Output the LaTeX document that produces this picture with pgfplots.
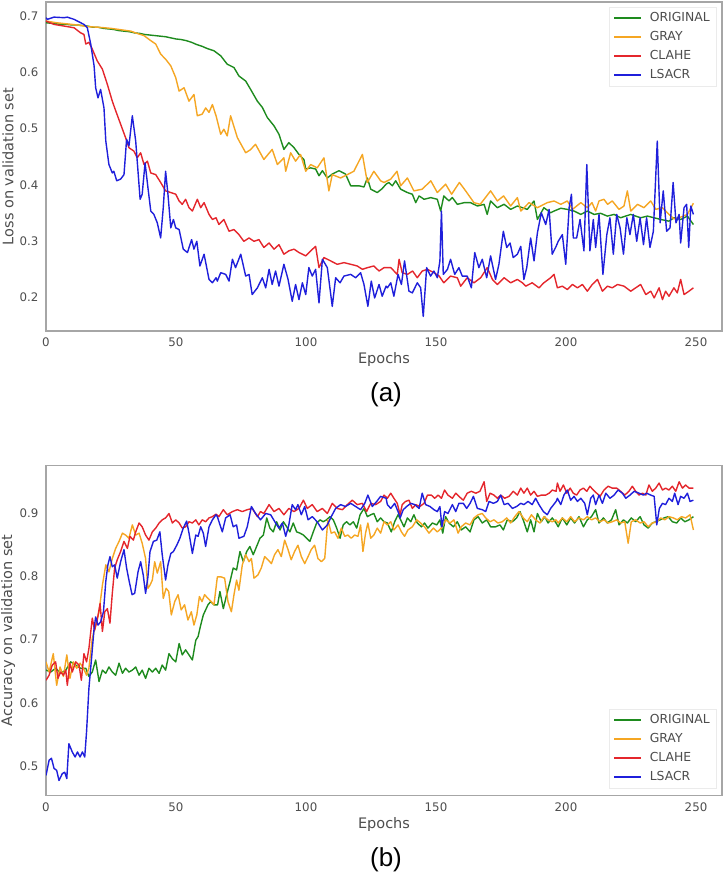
\documentclass[border=0pt]{standalone}
\usepackage{pgfplots}
\pgfplotsset{compat=1.18}
\usepackage{fontspec}
\setmainfont{DejaVu Sans}
\newfontfamily\capfont{Liberation Sans}
\definecolor{cOrig}{HTML}{1E8B1E}
\definecolor{cGray}{HTML}{F5A623}
\definecolor{cClahe}{HTML}{E4262C}
\definecolor{cLsacr}{HTML}{1F1FDB}
\definecolor{txtgray}{HTML}{4D4D4D}
\definecolor{framegray}{HTML}{A6A6A6}
\pgfplotsset{
  myaxis/.style={
    scale only axis, width=676pt,
    xmin=0, xmax=260, xtick={0,50,100,150,200,250},
    axis line style={draw=framegray, line width=1.3pt},
    major tick length=0pt, tick style={draw=none},
    /pgf/number format/assume math mode=true,
    tick label style={font=\fontsize{11.8}{13}\selectfont, text=txtgray},
    xticklabel style={yshift=-3.5pt},
    yticklabel style={xshift=-4pt},
    every axis x label/.style={at={(axis description cs:0.5,0)}, anchor=center, yshift=-29pt, font=\fontsize{14.5}{16}\selectfont, text=txtgray},
    every axis y label/.style={at={(axis description cs:-0.0562,0.5)}, rotate=90, anchor=center, font=\fontsize{14.5}{16}\selectfont, text=txtgray},
    xlabel={Epochs},
    legend style={draw=black!8, fill=white, font=\fontsize{12.4}{14}\selectfont,
      row sep=4.3pt, inner xsep=4pt, inner ysep=3.5pt},
    legend cell align=left,
  }
}
\begin{document}
\begin{tikzpicture}
\useasboundingbox (0,0) rectangle (725pt,875pt);
% ---------------- (a) loss ----------------
\begin{axis}[myaxis, at={(46pt,544pt)}, anchor=south west, height=329pt,
  ymin=0.139, ymax=0.726, ytick={0.2,0.3,0.4,0.5,0.6,0.7},
  yticklabel style={/pgf/number format/fixed, /pgf/number format/precision=1},
  ylabel={Loss on validation set},
  legend style={at={(axis description cs:0.991,0.985)}, anchor=north east},
  legend image code/.code={\draw[#1] (0pt,0pt) -- (27pt,0pt); \path (33pt,0pt);}]
\addplot[cOrig, line width=1.4pt, line join=round] coordinates {(0,0.689) (2,0.688) (4,0.687) (6,0.686) (8,0.686) (10,0.685) (12,0.685) (14,0.684) (16,0.683) (18,0.681) (20,0.681) (22,0.679) (24,0.678) (26,0.677) (28,0.675) (30,0.674) (32,0.673) (34,0.671) (36,0.670) (38,0.668) (40,0.667) (42,0.666) (44,0.665) (46,0.664) (48,0.662) (50,0.660) (52,0.659) (54,0.657) (56,0.654) (58,0.650) (60,0.647) (62,0.643) (64.6,0.639) (67.2,0.630) (69.7,0.615) (72.3,0.609) (74.2,0.594) (76.8,0.585) (78.7,0.570) (81.3,0.549) (83.2,0.538) (85.1,0.520) (87.7,0.505) (89.6,0.490) (91.5,0.463) (93.4,0.475) (95.4,0.466) (97.3,0.454) (99.2,0.445) (99.9,0.428) (101.8,0.430) (103.7,0.428) (105,0.416) (106.3,0.425) (108.2,0.412) (110.1,0.419) (112.7,0.425) (115.2,0.419) (117.2,0.398) (120.4,0.398) (122.3,0.396) (123.6,0.412) (124.9,0.392) (127.4,0.386) (129.3,0.393) (130.8,0.401) (131.9,0.404) (133.2,0.398) (134.5,0.407) (136.4,0.392) (139,0.386) (140.9,0.383) (142.2,0.368) (143.5,0.380) (145.4,0.374) (148,0.377) (150.5,0.374) (151.8,0.353) (153,0.380) (155,0.371) (156.3,0.377) (158.2,0.365) (160.8,0.368) (163.3,0.368) (165.9,0.362) (168.5,0.365) (169.7,0.347) (171,0.371) (173.6,0.359) (176.2,0.365) (178.7,0.356) (181.3,0.362) (185.1,0.356) (187.7,0.371) (189,0.338) (191.5,0.359) (194.1,0.350) (195.4,0.353) (198,0.358) (200.5,0.356) (203.1,0.353) (205.7,0.347) (208.2,0.353) (210.8,0.347) (213.3,0.349) (215.9,0.344) (218.5,0.347) (221,0.341) (224.9,0.347) (228.7,0.341) (231.3,0.344) (233.9,0.341) (236.4,0.338) (239.6,0.335) (241.5,0.341) (244.1,0.338) (246.7,0.344) (249,0.329)};
\addlegendentry{\textcolor{txtgray}{ORIGINAL}}
\addplot[cGray, line width=1.4pt, line join=round] coordinates {(0,0.692) (4,0.689) (8,0.687) (12,0.685) (16,0.682) (20,0.681) (24.9,0.679) (28,0.677) (32.6,0.674) (35,0.670) (37.7,0.666) (40.3,0.657) (42.2,0.651) (44.1,0.633) (46,0.624) (48,0.612) (49.9,0.591) (51.2,0.567) (53.1,0.573) (55,0.549) (56.9,0.561) (58.2,0.523) (60.1,0.526) (61.4,0.537) (62.7,0.529) (64,0.543) (65.4,0.523) (67.2,0.490) (68.4,0.499) (69.7,0.487) (71,0.523) (73.6,0.484) (76.8,0.457) (78.5,0.462) (80.6,0.472) (83.8,0.445) (87,0.463) (89,0.436) (91.5,0.448) (92.2,0.424) (94.1,0.457) (96,0.442) (97.9,0.454) (99.9,0.424) (101.8,0.436) (104.3,0.430) (106.9,0.448) (108.8,0.389) (110.1,0.418) (113.3,0.412) (115.9,0.418) (118.4,0.424) (121.7,0.454) (123.6,0.404) (126.1,0.424) (128.7,0.407) (130,0.404) (132.6,0.410) (135,0.424) (136.4,0.398) (139,0.412) (141.5,0.389) (144.7,0.392) (148,0.407) (150.5,0.386) (153.7,0.401) (156,0.383) (159,0.404) (161.4,0.389) (164.6,0.368) (167,0.365) (171,0.389) (173.6,0.371) (176,0.380) (178.7,0.362) (181.3,0.377) (182.6,0.353) (185.8,0.368) (189,0.359) (192.8,0.368) (195.4,0.371) (198,0.365) (200.5,0.371) (202.5,0.356) (205.7,0.368) (208.2,0.359) (210,0.368) (211.4,0.353) (212.7,0.371) (214.6,0.374) (216,0.365) (217.8,0.371) (220.4,0.356) (222.3,0.362) (223.6,0.389) (224.9,0.353) (227.5,0.365) (230,0.359) (232.6,0.371) (234.5,0.356) (237,0.359) (239.6,0.347) (241.5,0.339) (244,0.342) (246.7,0.347) (249,0.367)};
\addlegendentry{\textcolor{txtgray}{GRAY}}
\addplot[cClahe, line width=1.4pt, line join=round] coordinates {(0,0.692) (3.1,0.686) (7,0.683) (10.8,0.680) (13.3,0.671) (14.6,0.668) (15.3,0.651) (16.5,0.654) (17.8,0.642) (19.7,0.621) (21.7,0.606) (23.6,0.579) (25.5,0.549) (26.8,0.532) (28.7,0.508) (30.6,0.484) (31.9,0.466) (33.8,0.460) (35.1,0.448) (36.4,0.457) (37.7,0.436) (39,0.442) (40.3,0.421) (42.2,0.418) (44.1,0.404) (46,0.389) (48,0.386) (49.9,0.383) (51.2,0.371) (52.4,0.365) (53.7,0.374) (55,0.359) (56.3,0.353) (58.2,0.374) (59.5,0.359) (60.8,0.368) (62.7,0.347) (64,0.338) (65.4,0.341) (66.5,0.329) (68.4,0.338) (70.4,0.317) (72.3,0.320) (74.2,0.311) (76.1,0.299) (78.1,0.305) (80,0.299) (81.9,0.302) (83.8,0.288) (85.8,0.296) (87.7,0.285) (89.6,0.293) (91.5,0.276) (93.4,0.282) (95.4,0.285) (97.3,0.279) (99.9,0.273) (101.8,0.282) (103.7,0.290) (105,0.252) (106.9,0.270) (109.5,0.264) (112,0.258) (114.6,0.261) (117.2,0.258) (119.7,0.255) (121.7,0.249) (123.6,0.252) (126.1,0.255) (128.1,0.246) (130,0.252) (132.6,0.252) (135.1,0.240) (135.8,0.267) (137,0.243) (139,0.240) (141,0.246) (142.8,0.234) (144.7,0.246) (146.7,0.249) (149.2,0.243) (151.2,0.237) (153,0.225) (155.6,0.237) (158.2,0.234) (159.5,0.219) (162,0.234) (164.6,0.225) (167.2,0.234) (169.7,0.252) (171.7,0.231) (173.6,0.222) (176.2,0.234) (178.7,0.225) (181.3,0.231) (183.2,0.225) (184.5,0.219) (187,0.225) (189.6,0.216) (191.5,0.225) (194.1,0.234) (195.4,0.240) (196.7,0.216) (198.6,0.219) (200.5,0.213) (202.5,0.222) (204.4,0.216) (206.3,0.222) (208.2,0.210) (210.1,0.222) (212.1,0.231) (214,0.210) (215.9,0.219) (217.8,0.216) (219.8,0.222) (222.3,0.219) (224.9,0.210) (226.8,0.216) (228.7,0.222) (230.7,0.204) (232.6,0.210) (233.9,0.198) (235.8,0.216) (237.1,0.195) (238.3,0.210) (239.6,0.201) (241.5,0.216) (242.8,0.207) (244.1,0.231) (245.4,0.204) (247.3,0.210) (249,0.216)};
\addlegendentry{\textcolor{txtgray}{CLAHE}}
\addplot[cLsacr, line width=1.4pt, line join=round] coordinates {(0,0.698) (0.5,0.695) (3.1,0.699) (7,0.698) (8.2,0.699) (10.8,0.695) (14.6,0.686) (15.9,0.680) (17.2,0.651) (18.5,0.612) (19.1,0.573) (20,0.555) (21,0.570) (22.3,0.537) (23,0.478) (24.2,0.436) (25.5,0.421) (26.1,0.424) (27.2,0.407) (28.7,0.410) (30,0.418) (31,0.481) (31.9,0.469) (33.2,0.523) (34.5,0.478) (36.2,0.374) (37,0.383) (38.1,0.439) (39.2,0.395) (40.3,0.353) (41.5,0.347) (42.8,0.332) (44.1,0.305) (45.1,0.359) (46,0.424) (46.9,0.383) (48,0.323) (49,0.338) (49.9,0.323) (51.2,0.320) (52.8,0.285) (54.4,0.279) (56,0.302) (56.9,0.285) (58,0.299) (59.2,0.255) (60.8,0.276) (62.7,0.231) (64,0.225) (65.4,0.234) (65.9,0.228) (67.2,0.243) (69.1,0.240) (70.4,0.228) (71.7,0.267) (72.9,0.252) (74.9,0.276) (76.8,0.237) (78.1,0.240) (79.3,0.204) (81.3,0.216) (83.2,0.234) (84.5,0.216) (85.8,0.249) (87,0.222) (88.3,0.246) (89.6,0.219) (91.5,0.258) (93.1,0.231) (94.7,0.192) (96,0.222) (97.3,0.195) (98.6,0.225) (99.9,0.204) (101.1,0.252) (102.4,0.237) (103.7,0.249) (105,0.189) (106.3,0.267) (108.2,0.252) (110.1,0.183) (111.4,0.234) (113.1,0.225) (114.6,0.237) (117.2,0.240) (119.1,0.234) (121,0.243) (122.3,0.222) (123.8,0.183) (125.1,0.228) (126.4,0.198) (128.1,0.222) (129.3,0.201) (130.8,0.219) (131.3,0.216) (132.6,0.225) (133.8,0.201) (135.4,0.240) (136.7,0.222) (137.9,0.264) (139.6,0.210) (140.9,0.207) (142.8,0.225) (144.1,0.216) (145.1,0.165) (146.4,0.252) (147.9,0.237) (149.2,0.246) (150.5,0.234) (151.5,0.264) (152.1,0.353) (152.8,0.240) (154.4,0.249) (155.6,0.267) (157.2,0.240) (158.8,0.252) (160.1,0.237) (162,0.237) (163.6,0.216) (164.9,0.279) (166.5,0.252) (167.8,0.267) (169.5,0.234) (171,0.273) (172.9,0.231) (174.2,0.258) (175.9,0.317) (177.2,0.288) (178.5,0.296) (179.7,0.270) (181.3,0.276) (182.6,0.290) (183.8,0.231) (184.9,0.252) (186.4,0.305) (187.7,0.264) (189,0.314) (190.5,0.350) (192.2,0.329) (193.5,0.356) (194.7,0.276) (196.2,0.290) (197,0.299) (198.6,0.311) (199.9,0.258) (201.2,0.359) (202.1,0.383) (202.8,0.305) (204.1,0.305) (205.4,0.338) (206.9,0.282) (208,0.436) (209.2,0.282) (210.5,0.338) (211.4,0.288) (212.7,0.347) (214.2,0.240) (215.7,0.311) (216.9,0.341) (218.2,0.276) (219.5,0.347) (220.8,0.323) (222.1,0.276) (223.4,0.341) (224.6,0.311) (225.9,0.347) (227.2,0.299) (228.5,0.341) (229.8,0.293) (231,0.341) (232.3,0.288) (233.6,0.317) (235.1,0.478) (236.2,0.332) (237.4,0.389) (238.7,0.317) (240,0.323) (241.2,0.404) (242.3,0.332) (243.5,0.347) (244.1,0.296) (245.4,0.359) (246.4,0.365) (247.2,0.288) (248,0.362) (249,0.347)};
\addlegendentry{\textcolor{txtgray}{LSACR}}
\end{axis}
% ---------------- (b) accuracy ----------------
\begin{axis}[myaxis, at={(46pt,79.3pt)}, anchor=south west, height=330.4pt,
  ymin=0.454, ymax=0.975, ytick={0.5,0.6,0.7,0.8,0.9},
  yticklabel style={/pgf/number format/fixed, /pgf/number format/precision=1},
  ylabel={Accuracy on validation set},
  legend style={at={(axis description cs:0.991,0.023)}, anchor=south east},
  legend image code/.code={\draw[#1] (0pt,0pt) -- (27pt,0pt); \path (33pt,0pt);}]
\addplot[cOrig, line width=1.4pt, line join=round] coordinates {(0,0.652) (1.8,0.649) (3.7,0.655) (5.6,0.647) (7.6,0.652) (9.5,0.665) (11.4,0.660) (13.3,0.655) (15.3,0.655) (16.5,0.642) (17.8,0.649) (19.1,0.668) (20.4,0.634) (21.7,0.652) (23,0.647) (24.2,0.657) (25.5,0.649) (26.8,0.644) (28.1,0.663) (29.4,0.647) (30.6,0.655) (31.9,0.649) (33.2,0.652) (34.5,0.657) (35.8,0.644) (37,0.652) (38.3,0.639) (39.6,0.655) (40.9,0.649) (42.2,0.655) (43.5,0.647) (44.7,0.660) (46,0.652) (47.3,0.678) (48.6,0.670) (49.9,0.665) (51.2,0.694) (52.4,0.676) (53.7,0.684) (55,0.676) (56.3,0.668) (57.6,0.699) (58.5,0.705) (59.5,0.723) (60.5,0.739) (61.4,0.747) (62.3,0.755) (63.3,0.760) (64.6,0.755) (66,0.755) (66.9,0.776) (68.2,0.749) (69.5,0.771) (70.8,0.792) (72,0.813) (73.3,0.810) (74.6,0.839) (75.9,0.823) (77.2,0.839) (78.4,0.847) (79.7,0.834) (81,0.847) (82.3,0.860) (83.6,0.865) (84.9,0.892) (86.1,0.876) (87.4,0.870) (88.7,0.886) (90,0.873) (91.3,0.886) (92.6,0.878) (93.8,0.870) (95.1,0.884) (96.4,0.870) (97.7,0.868) (99,0.865) (100.2,0.860) (101.5,0.855) (102.8,0.870) (104.1,0.884) (105.4,0.889) (106.6,0.886) (107.9,0.889) (109.2,0.894) (110.5,0.889) (111.8,0.876) (113.1,0.860) (114.3,0.881) (115.6,0.886) (116.9,0.881) (118.2,0.886) (119.5,0.876) (120.8,0.897) (122.3,0.907) (123.6,0.894) (124.9,0.897) (126.1,0.899) (127.4,0.886) (128.7,0.892) (130,0.886) (131.3,0.884) (132.8,0.870) (134.1,0.886) (135.4,0.897) (136.4,0.889) (137.7,0.878) (139,0.892) (140.3,0.886) (141.5,0.897) (142.8,0.884) (144.4,0.878) (145.6,0.884) (146.9,0.876) (148.6,0.884) (150.3,0.881) (151.5,0.889) (152.6,0.868) (153.7,0.894) (155,0.884) (156.7,0.878) (158.2,0.886) (159.7,0.873) (161.4,0.878) (163.1,0.870) (164.6,0.889) (166.2,0.894) (167.8,0.884) (169.5,0.889) (171,0.878) (172.9,0.878) (174.6,0.881) (175.9,0.873) (177.4,0.889) (179.4,0.886) (181,0.892) (182.3,0.902) (183.8,0.886) (185.1,0.870) (186.4,0.889) (187.7,0.870) (189,0.899) (190.5,0.886) (191.8,0.894) (193.1,0.884) (194.7,0.892) (196.2,0.884) (197,0.878) (198.6,0.892) (200.3,0.881) (201.8,0.892) (203.3,0.884) (205,0.894) (206.7,0.878) (208.2,0.889) (209.8,0.894) (211.4,0.905) (212.7,0.884) (214.4,0.892) (215.9,0.884) (217.5,0.889) (219.1,0.905) (220.4,0.881) (222.1,0.889) (223.6,0.884) (225.1,0.892) (226.8,0.886) (228.5,0.894) (230,0.881) (231.6,0.876) (233.2,0.884) (234.5,0.886) (236.2,0.889) (237.7,0.892) (239.3,0.894) (240.9,0.886) (242.6,0.884) (244.1,0.892) (245.7,0.886) (247.3,0.889) (249,0.894)};
\addlegendentry{\textcolor{txtgray}{ORIGINAL}}
\addplot[cGray, line width=1.4pt, line join=round] coordinates {(0,0.665) (1.2,0.649) (2.8,0.678) (4.1,0.628) (5.4,0.657) (6.7,0.642) (8,0.676) (9.2,0.639) (10.5,0.665) (11.8,0.655) (13.1,0.663) (14.4,0.655) (15.6,0.644) (16.5,0.655) (17.8,0.702) (19.1,0.723) (20.4,0.744) (21.7,0.786) (23,0.818) (24.2,0.807) (25.5,0.828) (26.8,0.844) (28.1,0.855) (29.4,0.868) (30.6,0.865) (31.9,0.860) (33.2,0.881) (34.5,0.865) (35.8,0.868) (37,0.852) (38.3,0.828) (39.2,0.781) (40,0.786) (40.9,0.794) (41.8,0.823) (42.8,0.805) (44.1,0.823) (45.1,0.765) (46.2,0.781) (47.2,0.776) (48.2,0.739) (49.5,0.760) (50.8,0.771) (52,0.747) (53.3,0.755) (54.6,0.731) (55.9,0.744) (56.9,0.723) (58,0.739) (59,0.768) (60,0.760) (61,0.771) (62.3,0.765) (63.6,0.760) (64.6,0.755) (65.9,0.799) (67.4,0.799) (68.7,0.797) (70,0.760) (71.3,0.744) (72.3,0.771) (73.3,0.794) (74.2,0.778) (75.5,0.818) (76.8,0.834) (78.1,0.823) (79,0.828) (80,0.797) (81.5,0.802) (82.8,0.813) (84.1,0.831) (85.4,0.826) (86.7,0.820) (87.9,0.834) (89.2,0.842) (90.5,0.831) (91.8,0.857) (93.1,0.842) (94.3,0.826) (95.6,0.839) (96.9,0.849) (98.2,0.831) (99.5,0.820) (100.8,0.831) (102,0.842) (103.3,0.849) (104.6,0.828) (105.9,0.823) (107.2,0.828) (108.4,0.889) (109.7,0.868) (111,0.870) (112.3,0.860) (113.6,0.876) (114.9,0.863) (116.1,0.865) (117.4,0.860) (118.7,0.865) (120,0.863) (121,0.881) (121.9,0.839) (122.9,0.868) (123.8,0.884) (124.9,0.860) (126.1,0.865) (127.4,0.876) (128.7,0.868) (130,0.886) (131.3,0.881) (132.6,0.886) (133.8,0.873) (135.4,0.881) (136.7,0.870) (137.9,0.863) (139.2,0.873) (140.9,0.878) (142.6,0.889) (144.1,0.884) (145.6,0.878) (147.3,0.868) (149,0.876) (150.5,0.870) (152.1,0.876) (153.7,0.889) (155.4,0.884) (156.9,0.889) (158.5,0.868) (159.7,0.878) (161.4,0.884) (163.1,0.881) (164.6,0.892) (166.2,0.897) (167.8,0.899) (169.1,0.892) (170.8,0.886) (172.3,0.889) (173.8,0.884) (175.5,0.886) (177.2,0.892) (178.7,0.884) (180.3,0.894) (181.9,0.902) (183.6,0.892) (185.1,0.886) (186.7,0.897) (188.3,0.889) (190,0.884) (191.5,0.894) (193.1,0.889) (194.7,0.886) (196.2,0.889) (197,0.884) (198.6,0.892) (200.3,0.886) (201.8,0.894) (203.3,0.886) (205,0.892) (206.7,0.889) (208.2,0.894) (209.8,0.889) (211.4,0.892) (213.1,0.886) (214.6,0.889) (216.2,0.884) (217.8,0.886) (219.5,0.889) (221,0.884) (222.6,0.886) (223.9,0.852) (225.1,0.886) (226.8,0.889) (228.5,0.884) (230,0.886) (231.6,0.878) (233.2,0.884) (234.9,0.886) (236.4,0.892) (238,0.889) (239.6,0.894) (241.3,0.892) (242.8,0.889) (244.4,0.894) (246,0.892) (247.7,0.897) (249,0.873)};
\addlegendentry{\textcolor{txtgray}{GRAY}}
\addplot[cClahe, line width=1.4pt, line join=round] coordinates {(0,0.636) (1.2,0.644) (2.4,0.660) (3.7,0.665) (4.6,0.639) (5.6,0.649) (6.7,0.644) (7.6,0.652) (8.2,0.628) (9.2,0.663) (10.1,0.649) (11.4,0.665) (12.7,0.660) (13.6,0.636) (14.6,0.678) (15.6,0.665) (16.5,0.686) (17.8,0.734) (18.7,0.715) (19.7,0.731) (20.8,0.757) (21.7,0.713) (22.6,0.744) (23.6,0.749) (24.6,0.726) (25.5,0.773) (26.4,0.813) (27.4,0.826) (28.7,0.839) (30,0.855) (31.3,0.844) (32.3,0.863) (33.6,0.857) (34.5,0.870) (35.8,0.884) (37,0.878) (38.3,0.865) (39.6,0.857) (40.9,0.870) (42.2,0.876) (43.5,0.884) (44.7,0.889) (46,0.892) (47.3,0.899) (48.6,0.884) (49.9,0.889) (51.2,0.884) (52.4,0.876) (53.7,0.878) (55,0.886) (56.3,0.884) (57.6,0.889) (58.8,0.881) (60.1,0.889) (61.4,0.886) (62.7,0.892) (64,0.894) (65.4,0.898) (66.5,0.894) (68.2,0.905) (69.7,0.897) (71.7,0.902) (73.6,0.905) (75.5,0.902) (77.4,0.905) (79.3,0.907) (81.3,0.894) (82.5,0.902) (83.8,0.899) (85.8,0.913) (87.7,0.902) (89.6,0.907) (91.5,0.897) (93.4,0.907) (95.4,0.902) (97.3,0.907) (99,0.920) (100.5,0.907) (102.4,0.913) (104.3,0.902) (106.3,0.907) (108.2,0.899) (110.1,0.915) (112,0.907) (114,0.905) (115.9,0.913) (117.8,0.920) (119.7,0.913) (121.7,0.915) (123.3,0.902) (124.9,0.915) (126.8,0.913) (128.7,0.918) (130,0.928) (131.3,0.923) (132.6,0.931) (133.8,0.923) (135.1,0.915) (136.2,0.897) (137,0.913) (138.3,0.918) (139.6,0.920) (140.9,0.907) (142.2,0.913) (143.8,0.910) (145.4,0.915) (146.7,0.928) (148.2,0.928) (149.5,0.923) (150.8,0.928) (152.1,0.923) (153.3,0.936) (154.6,0.928) (156.3,0.923) (157.6,0.931) (158.8,0.926) (160.5,0.920) (162,0.931) (163.6,0.934) (165.3,0.931) (166.9,0.934) (168.5,0.949) (169.5,0.918) (170.8,0.931) (172.3,0.928) (173.6,0.923) (174.9,0.928) (176.4,0.923) (178.1,0.926) (179.7,0.934) (181.3,0.928) (182.6,0.939) (183.8,0.931) (185.1,0.939) (186.4,0.928) (187.7,0.934) (189,0.926) (190.5,0.928) (192.2,0.928) (193.5,0.931) (194.7,0.936) (196.2,0.934) (196.7,0.947) (197.7,0.934) (199,0.944) (200.3,0.931) (201.6,0.939) (202.8,0.931) (204.1,0.928) (205.4,0.936) (206.7,0.939) (208,0.934) (209.2,0.942) (210.5,0.936) (211.8,0.931) (213.1,0.926) (214.6,0.936) (216.2,0.942) (217.8,0.939) (219.5,0.939) (221,0.934) (222.6,0.928) (224.2,0.934) (225.5,0.942) (226.8,0.934) (228.1,0.928) (229.4,0.931) (230.7,0.928) (231.9,0.944) (233.2,0.934) (234.5,0.939) (235.8,0.947) (237.1,0.936) (238.3,0.939) (239.6,0.936) (240.9,0.942) (242.2,0.934) (243.5,0.949) (244.8,0.939) (246,0.944) (247.3,0.939) (249,0.939)};
\addlegendentry{\textcolor{txtgray}{CLAHE}}
\addplot[cLsacr, line width=1.4pt, line join=round] coordinates {(0,0.486) (1.2,0.510) (2.1,0.513) (3.1,0.497) (4.1,0.494) (5,0.478) (6.3,0.489) (7.2,0.491) (8,0.481) (8.8,0.536) (10.1,0.523) (11.2,0.515) (12.1,0.523) (13.1,0.515) (14,0.523) (14.9,0.515) (15.6,0.555) (16.5,0.623) (17.4,0.665) (18.5,0.718) (19.1,0.736) (20,0.723) (21,0.728) (22.1,0.744) (23,0.792) (23.8,0.818) (24.6,0.831) (25.5,0.815) (26.4,0.818) (27.4,0.797) (28.7,0.823) (30,0.842) (31,0.813) (32,0.792) (33.1,0.771) (34.1,0.773) (35.4,0.807) (36.4,0.823) (37.4,0.802) (38.3,0.773) (39.2,0.799) (40,0.839) (41.3,0.855) (42.6,0.857) (43.8,0.870) (44.7,0.834) (46,0.794) (46.9,0.818) (48,0.836) (49,0.839) (50.3,0.849) (51.5,0.860) (52.8,0.876) (54.1,0.887) (55,0.868) (56.3,0.836) (57.6,0.865) (58.5,0.863) (59.5,0.878) (60.5,0.868) (61.4,0.847) (62.7,0.878) (64,0.889) (65.4,0.897) (65.9,0.894) (67.8,0.870) (69.1,0.892) (70.8,0.897) (72,0.878) (73.3,0.881) (74.2,0.860) (76.1,0.863) (77.4,0.878) (79,0.910) (80.6,0.899) (82.5,0.889) (84.5,0.899) (86.4,0.897) (88.3,0.884) (89.6,0.876) (90.9,0.884) (92.2,0.863) (93.4,0.881) (94.7,0.913) (96,0.905) (96.9,0.913) (98.2,0.897) (99.5,0.910) (100.8,0.889) (102.4,0.894) (104.3,0.886) (106.3,0.873) (108.2,0.881) (109.7,0.894) (111.4,0.907) (113.3,0.913) (115.2,0.910) (117.2,0.915) (119.1,0.910) (121,0.905) (122.6,0.915) (123.8,0.928) (125.5,0.910) (127.2,0.918) (128.7,0.926) (130.8,0.923) (131.3,0.913) (132.6,0.907) (134.1,0.915) (135.4,0.902) (136.2,0.892) (137.4,0.905) (138.7,0.910) (140.3,0.915) (141.8,0.913) (143.5,0.907) (144.7,0.931) (146,0.913) (147.7,0.910) (149.2,0.905) (150.5,0.902) (151.5,0.910) (152.3,0.878) (153.3,0.902) (154.6,0.899) (156.3,0.913) (157.6,0.902) (158.8,0.915) (160.5,0.915) (161.8,0.907) (163.1,0.915) (164.4,0.926) (165.9,0.907) (167.8,0.905) (169.1,0.902) (170.4,0.918) (172.1,0.915) (173.6,0.918) (174.9,0.928) (176.2,0.913) (177.7,0.915) (179.4,0.907) (181,0.910) (182.6,0.915) (183.8,0.913) (185.4,0.918) (187,0.913) (188.3,0.923) (189.6,0.913) (191.3,0.902) (192.8,0.897) (194.1,0.907) (196.2,0.918) (196.7,0.923) (198,0.913) (199.2,0.928) (200.5,0.936) (201.8,0.920) (203.1,0.926) (204.4,0.918) (205.7,0.923) (207.2,0.915) (208.2,0.897) (209.5,0.923) (210.5,0.928) (211.4,0.913) (212.7,0.928) (214,0.915) (215.3,0.931) (216.9,0.923) (218.5,0.928) (220,0.936) (221.7,0.931) (223,0.923) (224.6,0.928) (226.2,0.934) (228.1,0.931) (229.8,0.928) (231,0.931) (232.6,0.928) (233.9,0.926) (234.9,0.881) (235.9,0.907) (237.1,0.915) (238.3,0.913) (239.6,0.923) (240.9,0.918) (241.8,0.931) (243.1,0.913) (244.1,0.926) (245.4,0.923) (246.7,0.931) (247.7,0.918) (249,0.920)};
\addlegendentry{\textcolor{txtgray}{LSACR}}
\end{axis}
\node[font=\capfont\fontsize{26}{30}\selectfont, text=black] at (386pt,480pt) {(a)};
\node[font=\capfont\fontsize{26}{30}\selectfont, text=black] at (386pt,15pt) {(b)};
\end{tikzpicture}
\end{document}
